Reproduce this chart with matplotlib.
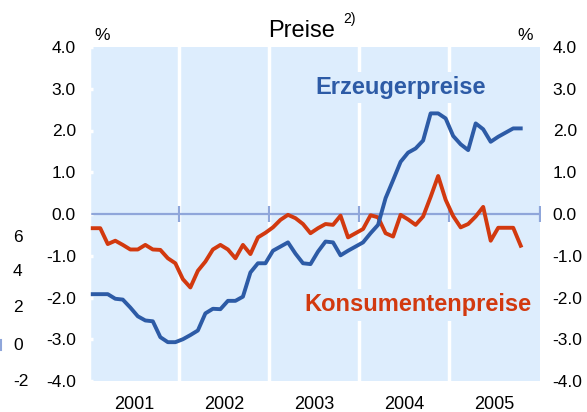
import matplotlib.pyplot as plt

plt.rcParams['font.family'] = ['Liberation Sans', 'DejaVu Sans']

# monthly values Jan 2001 - Oct 2005, in %
erzeuger = [-1.92, -1.92, -1.92, -2.03, -2.05, -2.24, -2.45, -2.55, -2.57, -2.95,
            -3.07, -3.07, -3.00, -2.90, -2.79, -2.38, -2.27, -2.28, -2.08, -2.08,
            -1.98, -1.40, -1.18, -1.18, -0.88, -0.78, -0.68, -0.95, -1.18, -1.20,
            -0.90, -0.66, -0.68, -0.99, -0.88, -0.78, -0.68, -0.46, -0.26, 0.38,
            0.81, 1.25, 1.47, 1.57, 1.76, 2.41, 2.41, 2.29, 1.87, 1.67,
            1.53, 2.17, 2.03, 1.73, 1.85, 1.95, 2.05, 2.05]
konsumenten = [-0.34, -0.34, -0.72, -0.64, -0.74, -0.85, -0.85, -0.74, -0.85, -0.86,
               -1.06, -1.18, -1.56, -1.76, -1.36, -1.14, -0.85, -0.74, -0.85, -1.06,
               -0.74, -0.96, -0.56, -0.45, -0.32, -0.14, -0.02, -0.10, -0.24, -0.46,
               -0.34, -0.24, -0.26, -0.04, -0.56, -0.46, -0.36, -0.03, -0.08, -0.46,
               -0.54, -0.02, -0.13, -0.26, -0.06, 0.41, 0.91, 0.34, -0.05, -0.32,
               -0.24, -0.06, 0.17, -0.64, -0.33, -0.33, -0.33, -0.76]
years = ['2001', '2002', '2003', '2004', '2005']
yticks = [-4, -3, -2, -1, 0, 1, 2, 3, 4]
stray_ticks = ['6', '4', '2', '0', '-2']

months = list(range(len(erzeuger)))
bounds = [12 * k - 0.5 for k in range(len(years) + 1)]
centers = [12 * k + 5.5 for k in range(len(years))]

blue = '#2D5BA6'
red = '#D2390F'
bg = '#DDEDFD'
axis_col = '#8FA6DA'


# pixel coordinates are measured from the top, so convert
def fx(px):
    return px / 587


def fy(py):
    return 1 - py / 412


fig = plt.figure(figsize=(5.87, 4.12), dpi=100)
ax = fig.add_axes([fx(89), fy(381), 450.5 / 587, 334 / 412])
ax.set_facecolor(bg)
for s in ax.spines.values():
    s.set_visible(False)
ax.spines['left'].set_visible(True)
ax.spines['left'].set_color('white')
ax.spines['left'].set_linewidth(2.5)

for b in bounds[1:-1]:
    ax.axvline(b, color='white', lw=2.5, zorder=1)

ax.plot(bounds, [0] * len(bounds), color=axis_col, lw=1.6, marker='|',
        markersize=11, markeredgewidth=1.6, zorder=2)

ax.plot(months, konsumenten, color=red, lw=2.8, zorder=3, solid_joinstyle='round')
ax.plot(months, erzeuger, color=blue, lw=2.8, zorder=4, solid_joinstyle='round')

ax.set_xlim(bounds[0], bounds[-1])
ax.set_ylim(-4, 4)
ax.set_yticks(yticks)
ax.set_yticklabels([f'{v:.1f}' for v in yticks])
ax.tick_params(axis='y', labelsize=12.5, left=True, right=False, labelleft=True,
               labelright=True, direction='in', length=3, width=2.5, color='white', pad=9.5)
ax.set_xticks(centers)
ax.set_xticklabels(years)
ax.tick_params(axis='x', labelsize=13, length=0, pad=10.5)

fig.text(fx(401), fy(94), 'Erzeugerpreise', color=blue, fontsize=17,
         fontweight='bold', ha='center', va='baseline', zorder=5,
         bbox=dict(facecolor=bg, edgecolor='none', pad=3))
fig.text(fx(418), fy(311.5), 'Konsumentenpreise', color=red, fontsize=17,
         fontweight='bold', ha='center', va='baseline', zorder=5,
         bbox=dict(facecolor=bg, edgecolor='none', pad=3))

fig.text(fx(102.5), fy(35.5), '%', fontsize=12.5, ha='center', va='center')
fig.text(fx(525.5), fy(35.5), '%', fontsize=12.5, ha='center', va='center')
fig.text(fx(301.5), fy(37), 'Preise', fontsize=17, ha='center', va='baseline')
fig.text(fx(343), fy(23.5), '2)', fontsize=10, ha='left', va='baseline')

for lab, py in zip(stray_ticks, [237, 272, 308, 345, 382]):
    fig.text(fx(13), fy(py), lab, fontsize=12.5, ha='left', va='center')
fig.add_artist(plt.Line2D([fx(0.5), fx(0.5)], [fy(340), fy(350)], color=axis_col, lw=1.5))

fig.savefig('out.png', dpi=100)
